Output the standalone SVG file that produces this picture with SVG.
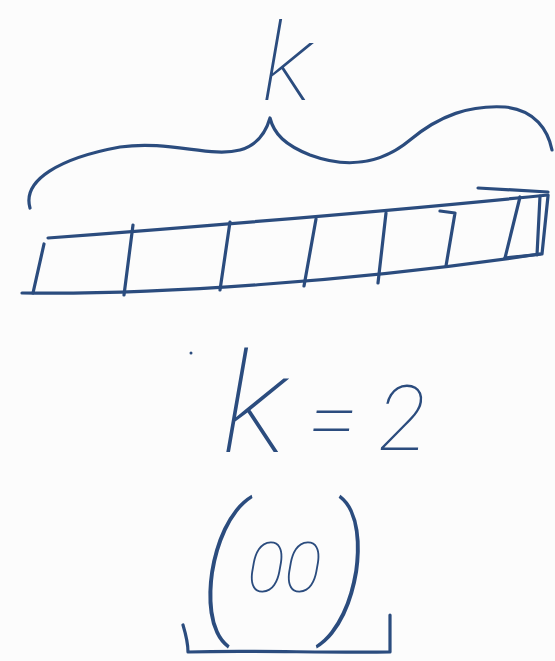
<svg xmlns="http://www.w3.org/2000/svg" width="555" height="661" viewBox="0 0 555 661">
<style>
.ink{fill:none;stroke:#2b4c7e;stroke-width:3.2;stroke-linecap:round;stroke-linejoin:round}
.hw{fill:#2b4c7e;font-family:Roboto,"Liberation Sans",sans-serif;font-weight:100;font-style:italic}
</style>
<rect width="555" height="661" fill="#fcfcfc"/>
<g id="label-k">
<text class="hw" x="262" y="100" font-size="108">k</text>
</g>
<g id="brace">
<path class="ink" d="M30,208 C22,180 60,158 120,147 C170,140 210,158 240,150 C258,145 266,132 270,118 C274,134 285,145 310,155 C345,168 380,165 410,140 C440,115 470,105 505,107 C535,110 548,130 552,150"/>
</g>
<g id="strip">
<path class="ink" d="M48,238 C180,228 380,212 548,195"/>
<path class="ink" d="M22,293 C150,295 350,282 540,254"/>
<path class="ink" d="M44,244 L33,293"/>
<path class="ink" d="M133,225 L124,295"/>
<path class="ink" d="M230,222 L220,290"/>
<path class="ink" d="M316,219 L304,286"/>
<path class="ink" d="M386,213 L378,283"/>
<path class="ink" d="M440,211 L455,213 L446,266"/>
<path class="ink" d="M520,197 L505,258"/>
<path class="ink" d="M505,258 L542,254 L548,196"/>
<path class="ink" d="M540,196 L537,255"/>
<path class="ink" d="M478,188 L548,192"/>
</g>
<g id="dot">
<circle cx="191" cy="353" r="1.5" fill="#2b4c7e"/>
</g>
<g id="label-k-eq-2">
<text class="hw" x="222" y="452" font-size="140">k<tspan font-size="90" dx="22" dy="-2">= 2</tspan></text>
</g>
<g id="label-00">
<text class="hw" x="200" y="614" font-size="150">(<tspan font-size="70" dx="4" dy="-22">00</tspan><tspan font-size="150" dx="4" dy="22">)</tspan></text>
</g>
<g id="bracket">
<path class="ink" d="M183,625 C186,635 188,645 188,652 C250,650 320,653 390,652 L390,615"/>
</g>
</svg>
